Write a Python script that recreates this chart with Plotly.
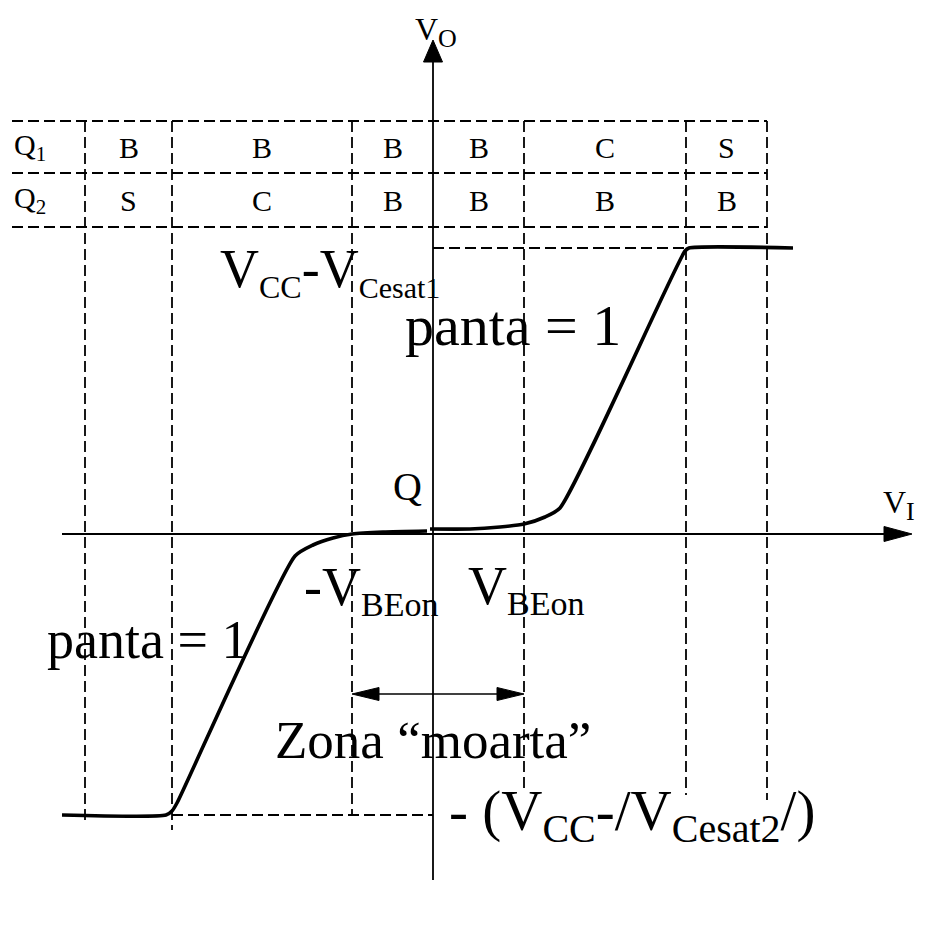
import plotly.graph_objects as go

# frame: origin at the v_I / v_o crossing, 1 unit = 1 px
# (the page body adds an 8 px margin, so the figure is 8 px smaller)
X_RANGE = [-425, 499]
Y_RANGE = [-403, 526]

# transfer characteristic v_o(v_I)
curve_neg_x = [-371, -267, -261, -256, -138, -120, -100, -81, -50, -6]
curve_neg_y = [-281, -281, -277, -269, -22, -11, -4, 0, 2, 3]
curve_pos_x = [-3, 37, 67, 91, 112, 127, 252, 256, 360]
curve_pos_y = [5, 5, 7, 10, 17, 26, 283, 286, 286]

V_SAT_POS = 286
V_SAT_NEG = -281
V_BEON_POS = 91
V_BEON_NEG = -81
DEAD_ZONE_Y = -160

# region boundaries (dashed verticals) and how low each one goes
bound_x = [-348, -261, -81, 91, 253, 334]
bound_bottom = [-291, -296, -281, -256, -261, -266]

# operating-mode table
table_rows_y = [413, 361, 307]
table_left = -421
col_edges = [-348, -261, -81, 0, 91, 253, 334]
q_names = ["Q<sub>1</sub>", "Q<sub>2</sub>"]
q1_modes = ["B", "B", "B", "B", "C", "S"]
q2_modes = ["S", "C", "B", "B", "B", "B"]

# axes extents
axis_x = [-371, 479]
axis_y = [-346, 494]

FONT = "Liberation Serif"
DASH = "11px,5px"

fig = go.Figure()


def line(xs, ys, width=1.5, dash=None, shape="linear"):
    fig.add_trace(go.Scatter(x=xs, y=ys, mode="lines", hoverinfo="skip",
                             line=dict(color="black", width=width, dash=dash,
                                       shape=shape, smoothing=0.6)))


def head(tip_x, tip_y, dx, dy, length, width):
    # filled triangle pointing along (dx, dy)
    bx, by = tip_x - dx * length, tip_y - dy * length
    px, py = -dy * width / 2, dx * width / 2
    path = (f"M{tip_x},{tip_y} L{bx + px},{by + py} "
            f"L{bx - px},{by - py} Z")
    fig.add_shape(type="path", path=path, xref="x", yref="y",
                  fillcolor="black", line=dict(color="black", width=1))


def sub(s, size):
    return f"<sub><span style='font-size:{size}px'>{s}</span></sub>"


def text(x, y, s, size, xanchor="left", yanchor="middle"):
    fig.add_annotation(x=x, y=y, text=s, showarrow=False, xref="x", yref="y",
                       xanchor=xanchor, yanchor=yanchor,
                       font=dict(family=FONT, size=size, color="black"))


# dashed grid
for x, yb in zip(bound_x, bound_bottom):
    line([x, x], [table_rows_y[0], yb], width=1.8, dash=DASH)
for y in table_rows_y:
    line([table_left, col_edges[-1]], [y, y], width=1.8, dash=DASH)
line([0, bound_x[4]], [V_SAT_POS, V_SAT_POS], width=1.8, dash=DASH)
line([bound_x[1], 0], [V_SAT_NEG, V_SAT_NEG], width=1.8, dash=DASH)

# axes
line(axis_x[:1] + [axis_x[1] - 20], [0, 0], width=1.8)
head(axis_x[1], 0, 1, 0, 28, 15)
line([0, 0], [axis_y[0], axis_y[1] - 16], width=1.8)
head(0, axis_y[1], 0, 1, 22, 19)

# dead zone arrow
line([V_BEON_NEG + 20, V_BEON_POS - 20], [DEAD_ZONE_Y, DEAD_ZONE_Y], width=1.6)
head(V_BEON_NEG, DEAD_ZONE_Y, -1, 0, 27, 13)
head(V_BEON_POS, DEAD_ZONE_Y, 1, 0, 27, 13)

# characteristic
line(curve_neg_x, curve_neg_y, width=3.6, shape="spline")
line(curve_pos_x, curve_pos_y, width=3.6, shape="spline")

# table text
row_mid = [(table_rows_y[i] + table_rows_y[i + 1]) / 2 for i in range(2)]
for r, modes in enumerate([q1_modes, q2_modes]):
    text(table_left, row_mid[r], q_names[r], 30)
    for i, m in enumerate(modes):
        text((col_edges[i] + col_edges[i + 1]) / 2, row_mid[r], m, 30, "center")

# labels
text(3, 525, "V" + sub("O", 26), 32, "center", "top")
text(448, 29, "V" + sub("I", 26), 32)
text(-215, 262, "V" + sub("CC", 32) + "-V" + sub("Cesat1", 30), 54)
text(-30, 209, "panta = 1", 58)
text(-388, -106, "panta = 1", 54)
text(-42, 48, "Q", 40)
text(-131, -56, "-V" + sub("BEon", 34), 54)
text(33, -55, "V" + sub("BEon", 34), 54)
text(-160, -206, "Zona \u201cmoarta\u201d", 53)
text(14, -281, "- (V" + sub("CC", 40) + "-/V" + sub("Cesat2", 40) + "/)", 57)

fig.update_layout(
    width=924, height=929,
    margin=dict(l=0, r=0, t=0, b=0),
    paper_bgcolor="white", plot_bgcolor="white",
    showlegend=False,
    xaxis=dict(range=X_RANGE, visible=False, fixedrange=True),
    yaxis=dict(range=Y_RANGE, visible=False, fixedrange=True),
)

fig.write_html("out.html")
